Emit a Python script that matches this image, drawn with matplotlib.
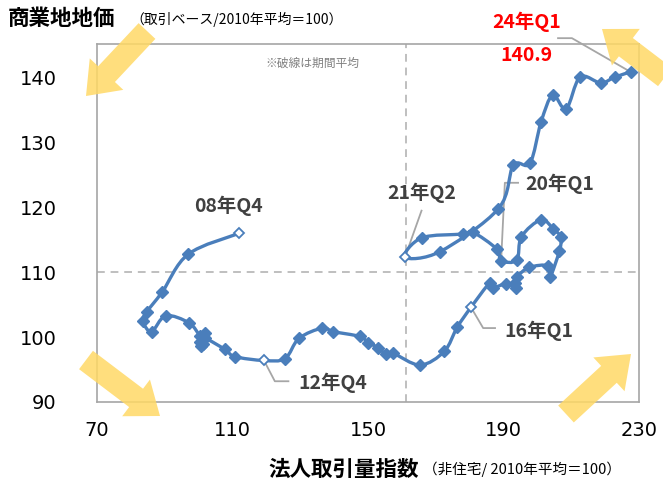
import matplotlib
matplotlib.use("Agg")
import matplotlib.pyplot as plt
from matplotlib.path import Path
from matplotlib.patches import PathPatch, FancyArrow
import numpy as np

plt.rcParams['font.family'] = ['DejaVu Sans', 'Noto Sans CJK JP']

# ---- data ----
quarters = ["08Q4", "09Q1", "09Q2", "09Q3", "09Q4", "10Q1", "10Q2", "10Q3", "10Q4",
            "11Q1", "11Q2", "11Q3", "11Q4", "12Q1", "12Q2", "12Q3", "12Q4",
            "13Q1", "13Q2", "13Q3", "13Q4", "14Q1", "14Q2", "14Q3", "14Q4",
            "15Q1", "15Q2", "15Q3", "15Q4", "16Q1", "16Q2", "16Q3", "16Q4",
            "17Q1", "17Q2", "17Q3", "17Q4", "18Q1", "18Q2", "18Q3", "18Q4",
            "19Q1", "19Q2", "19Q3", "19Q4", "20Q1", "20Q2", "20Q3", "20Q4",
            "21Q1", "21Q2", "21Q3", "21Q4", "22Q1", "22Q2", "22Q3", "22Q4",
            "23Q1", "23Q2", "23Q3", "23Q4", "24Q1"]
volume = [111.9, 96.95, 89.3, 84.7, 83.5, 86.1, 90.3, 97.2, 100.5,
          101.9, 100.3, 100.6, 101.3, 101.9, 107.8, 110.7, 119.3,
          125.5, 129.6, 136.5, 139.8, 147.6, 150.1, 152.9, 155.4,
          157.5, 165.4, 172.5, 176.3, 180.4, 186.0, 187.0, 190.7,
          193.7, 193.3, 193.9, 197.6, 203.2, 203.7, 206.5, 206.9,
          204.7, 201.1, 195.3, 193.9, 189.3, 188.0, 180.9, 178.1,
          165.8, 160.9, 171.3, 188.5, 192.9, 197.8, 201.1, 204.5,
          208.5, 212.6, 218.7, 222.9, 227.5]
price = [116.0, 112.8, 107.0, 103.9, 102.5, 100.85, 103.3, 102.2, 100.2,
         100.6, 99.2, 98.6, 98.9, 99.8, 98.1, 97.0, 96.4,
         96.7, 99.8, 101.4, 100.85, 100.1, 99.15, 98.4, 97.35,
         97.5, 95.7, 97.8, 101.5, 104.6, 108.4, 107.65, 108.2,
         107.65, 108.4, 109.3, 110.75, 111.0, 109.2, 113.3, 115.4,
         116.7, 118.1, 115.5, 111.9, 111.8, 113.6, 116.2, 115.9,
         115.3, 112.3, 113.2, 119.8, 126.5, 126.8, 133.2, 137.3,
         135.2, 140.1, 139.2, 140.1, 140.9]
open_labels = ["08Q4", "12Q4", "16Q1", "21Q2"]
avg_volume = 161.2
avg_price = 110.1
xticks = [70, 110, 150, 190, 230]
yticks = [90, 100, 110, 120, 130, 140]

BLUE = "#4A7EBB"
GRAY = "#A6A6A6"
DASH = "#BFBFBF"
LABEL = "#404040"
JP = ['Noto Sans CJK JP', 'DejaVu Sans']

fig = plt.figure(figsize=(6.63, 4.82), dpi=100)
ax = fig.add_axes([97/663, 1-402/482, (639-97)/663, (402-44)/482])
ax.set_xlim(70, 230)
ax.set_ylim(90, 145.2)
ax.set_xticks(xticks)
ax.set_yticks(yticks)
ax.tick_params(length=0, labelsize=14)
ax.tick_params(axis='y', pad=29)
ax.tick_params(axis='x', pad=14)
for s in ax.spines.values():
    s.set_color(GRAY)
    s.set_linewidth(1.2)

ax.axvline(avg_volume, color=DASH, lw=1.4, ls=(0, (4, 3)), zorder=1)
ax.axhline(avg_price, color=DASH, lw=1.4, ls=(0, (4, 3)), zorder=1)

# smooth line (Excel-style Bezier smoothing through the data points)
P = np.column_stack([volume, price])
n = len(P)
verts = [tuple(P[0])]
codes = [Path.MOVETO]
for i in range(n - 1):
    p0 = P[i - 1] if i > 0 else P[i]
    p1 = P[i]
    p2 = P[i + 1]
    p3 = P[i + 2] if i + 2 < n else P[i + 1]
    c1 = p1 + (p2 - p0) / 6.0
    c2 = p2 - (p3 - p1) / 6.0
    verts += [tuple(c1), tuple(c2), tuple(p2)]
    codes += [Path.CURVE4] * 3
ax.add_patch(PathPatch(Path(verts, codes), fill=False, edgecolor=BLUE, lw=2.4,
                       zorder=3, capstyle='round', joinstyle='round'))

is_open = np.array([q in open_labels for q in quarters])
vx = np.array(volume)
py = np.array(price)
ax.plot(vx[~is_open], py[~is_open], ls='none', marker='D', ms=5.8,
        color=BLUE, mec=BLUE, zorder=4)
ax.plot(vx[is_open], py[is_open], ls='none', marker='D', ms=5.5,
        mfc='white', mec=BLUE, mew=1.3, zorder=5)

# leader lines and labels
def leader(xs, ys):
    ax.plot(xs, ys, color=GRAY, lw=1.3, zorder=2, clip_on=False)

i = quarters.index
leader([206.1, 210.2, volume[i("24Q1")]], [146.1, 146.1, price[i("24Q1")]])
leader([194.3, 190.4, volume[i("20Q1")]], [123.8, 123.8, price[i("20Q1")]])
leader([165.8, volume[i("21Q2")]], [119.5, price[i("21Q2")]])
leader([volume[i("16Q1")], 184.0, 187.5], [price[i("16Q1")], 101.4, 101.4])
leader([volume[i("12Q4")], 122.5, 126.5], [price[i("12Q4")], 93.2, 93.2])

bold = dict(fontsize=14, fontweight='bold', color=LABEL, family=JP)
ax.text(108.7, 120.3, "08年Q4", ha='center', va='center', **bold)
ax.text(166.0, 122.3, "21年Q2", ha='center', va='center', **bold)
ax.text(196.3, 123.7, "20年Q1", ha='left', va='center', **bold)
ax.text(190.4, 101.0, "16年Q1", ha='left', va='center', **bold)
ax.text(129.3, 93.0, "12年Q4", ha='left', va='center', **bold)
ax.text(196.9, 148.6, "24年Q1", ha='center', va='center', fontsize=14,
        fontweight='bold', color='#FF0000', family=JP, clip_on=False)
ax.text(196.9, 143.5, f"{price[-1]:.1f}", ha='center', va='center', fontsize=14,
        fontweight='bold', color='#FF0000', family=JP)
ax.text(133.5, 142.2, "※破線は期間平均", ha='center', va='center', fontsize=8.5,
        color='#808080', family=JP)

# titles
fig.text(8/663, 1-18/482, "商業地地価", ha='left', va='center', fontsize=15.5,
         fontweight='bold', color='black', family=JP)
fig.text(130/663, 1-19/482, "（取引ベース/2010年平均＝100）", ha='left', va='center',
         fontsize=10, color='black', family=JP)
fig.text(268/663, 1-469/482, "法人取引量指数", ha='left', va='center', fontsize=15.5,
         fontweight='bold', color='black', family=JP)
fig.text(423/663, 1-469/482, "（非住宅/ 2010年平均＝100）", ha='left', va='center',
         fontsize=10.5, color='black', family=JP)

# decorative yellow arrows (pixel coords -> inches)
def arrow(x0, y0, x1, y1):
    X0, Y0 = x0/100, (482-y0)/100
    X1, Y1 = x1/100, (482-y1)/100
    a = FancyArrow(X0, Y0, X1-X0, Y1-Y0, width=0.23, head_width=0.46,
                   head_length=0.3, length_includes_head=True,
                   transform=fig.dpi_scale_trans, color='#FFD966', alpha=0.85,
                   lw=0, zorder=10)
    fig.add_artist(a)

arrow(147, 31, 86, 96)
arrow(665, 77, 602, 29)
arrow(86, 360, 160, 416)
arrow(566, 414, 631, 354)

fig.savefig("out.png", dpi=100)
